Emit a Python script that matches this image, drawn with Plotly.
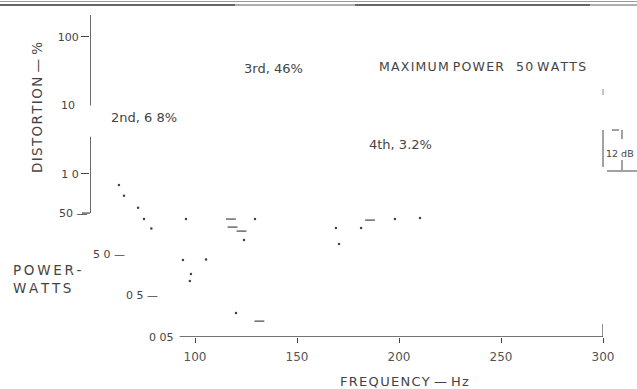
import math
import plotly.graph_objects as go

W, H = 637, 389

# Harmonic distortion trace (percent) vs frequency
dist_freq = [62.7, 65.2, 72.1, 75.0, 78.6]
dist_pct = [0.69, 0.48, 0.32, 0.22, 0.16]

# Power output points (watts) vs frequency
power_dot_freq = [95.6, 129.4, 198.0, 210.3, 169.1, 181.4, 124.0, 170.6,
                  94.1, 105.4, 98.0, 97.5, 120.1]
power_dot_w = [35.8, 35.8, 35.8, 37.9, 21.7, 21.7, 11.1, 8.9,
               3.64, 3.77, 1.67, 1.13, 0.19]
power_dash_freq = [117.6, 185.8, 118.4, 122.8, 131.6]
power_dash_w = [35.8, 33.8, 22.9, 18.3, 0.121]

# Axis ticks
freq_ticks = [100, 150, 200, 250, 300]
dist_ticks = [100, 1]
dist_tick_text = ["100", "1 0"]
power_ticks = [50, 5, 0.5, 0.05]
power_tick_text = ["50 \u2014", "5 0 \u2014", "0 5 \u2014", "0 05"]

# Annotated harmonic levels
harmonic_labels = ["3rd, 46%", "2nd, 6 8%", "4th, 3.2%"]

INK = "#444444"
FONT = "DejaVu Sans"

L, R, T, B = 90, 603, 15, 337   # plot area in pixels
X_RANGE = [48.53, 300]
Y_DIST = [-2.380, 2.321]
Y_POW = [math.log10(0.05), 6.493]


def px(x):
    # pixel column -> paper fraction (plot-area based)
    return (x - L) / (R - L)


def py(y):
    # pixel row -> paper fraction (plot-area based)
    return (B - y) / (B - T)


def tracked(s, gap="\u200a"):
    # widen letter spacing of lettering
    return gap.join(s)


fig = go.Figure()

fig.add_trace(go.Scatter(
    x=dist_freq, y=dist_pct, mode="markers", yaxis="y",
    marker=dict(symbol="circle", size=2.5, color=INK),
    showlegend=False, hoverinfo="skip"))

fig.add_trace(go.Scatter(
    x=power_dot_freq, y=power_dot_w, mode="markers", yaxis="y2",
    marker=dict(symbol="circle", size=2.5, color=INK),
    showlegend=False, hoverinfo="skip"))

fig.add_trace(go.Scatter(
    x=power_dash_freq, y=power_dash_w, mode="markers", yaxis="y2",
    marker=dict(symbol="line-ew", size=7, color=INK,
                line=dict(color=INK, width=1.2)),
    showlegend=False, hoverinfo="skip"))

shapes = []
# distortion axis line, broken around the 10 % mark
shapes.append(dict(type="line", xref="x", yref="y", x0=X_RANGE[0], x1=X_RANGE[0],
                   y0=10, y1=10 ** Y_DIST[1], line=dict(color=INK, width=1.6)))
shapes.append(dict(type="line", xref="x", yref="y", x0=X_RANGE[0], x1=X_RANGE[0],
                   y0=0.27, y1=3.5, line=dict(color=INK, width=1.6)))
# 50 W tick at the foot of the distortion axis
shapes.append(dict(type="line", xref="paper", yref="y2", x0=px(82), x1=px(90),
                   y0=power_ticks[0], y1=power_ticks[0], line=dict(color=INK, width=1.2)))
# frequency baseline at 0.05 W
shapes.append(dict(type="line", xref="x", yref="y2", x0=92.5, x1=X_RANGE[1],
                   y0=power_ticks[-1], y1=power_ticks[-1], line=dict(color=INK, width=1.3)))
# upright stub at 300 Hz
shapes.append(dict(type="line", xref="x", yref="paper", x0=300, x1=300,
                   y0=py(337), y1=py(324), line=dict(color=INK, width=1.2)))
# 12 dB scale bracket
shapes += [
    dict(type="line", xref="paper", yref="paper", x0=px(603), x1=px(603),
         y0=py(130), y1=py(167), line=dict(color=INK, width=1)),
    dict(type="line", xref="paper", yref="paper", x0=px(612), x1=px(619),
         y0=py(130), y1=py(130), line=dict(color=INK, width=1)),
    dict(type="line", xref="paper", yref="paper", x0=px(622), x1=px(622),
         y0=py(130), y1=py(139), line=dict(color=INK, width=1)),
    dict(type="line", xref="paper", yref="paper", x0=px(622), x1=px(622),
         y0=py(160), y1=py(170), line=dict(color=INK, width=1)),
    dict(type="line", xref="paper", yref="paper", x0=px(607), x1=px(637),
         y0=py(171), y1=py(171), line=dict(color=INK, width=1)),
    dict(type="line", xref="paper", yref="paper", x0=px(603), x1=px(603),
         y0=py(89), y1=py(95), line=dict(color="#888", width=1)),
]
# page rules along the top edge
shapes += [
    dict(type="line", xref="paper", yref="paper", x0=px(0), x1=px(W),
         y0=py(1.5), y1=py(1.5), line=dict(color="#9a9a9a", width=1)),
    dict(type="line", xref="paper", yref="paper", x0=px(0), x1=px(W),
         y0=py(5), y1=py(5), line=dict(color="#b0b0b0", width=2)),
    dict(type="line", xref="paper", yref="paper", x0=px(0), x1=px(235),
         y0=py(5), y1=py(5), line=dict(color="#666", width=2)),
    dict(type="line", xref="paper", yref="paper", x0=px(355), x1=px(590),
         y0=py(5), y1=py(5), line=dict(color="#666", width=2)),
]

ann = []


def note(text, x, y, size, xanchor="center", **kw):
    ann.append(dict(text=text, x=x, y=y, xref=kw.pop("xref", "paper"),
                    yref=kw.pop("yref", "paper"), showarrow=False,
                    xanchor=xanchor, yanchor="middle",
                    font=dict(family=FONT, size=size, color=INK), **kw))


# power tick labels, staggered
power_label_right = [90, 127, 160, 176]
for v, t, xr in zip(power_ticks, power_tick_text, power_label_right):
    note(t, px(xr), math.log10(v), 11, xanchor="right", yref="y2")
note("10", px(77), 1, 11, xanchor="right", yref="y")

note(tracked("DISTORTION") + " \u2014 %", px(37), py(108), 13.5, textangle=-90)
for t, (cx, cy) in zip(harmonic_labels, [(273, 68), (144, 117), (400, 144)]):
    note(t, px(cx), py(cy), 13)
note(tracked("MAXIMUM") + "\u00a0" + tracked("POWER") + "\u00a0\u00a0\u00a0"
     + tracked("50") + "\u00a0" + tracked("WATTS"), px(482), py(66), 12.5)
note("12\u00a0dB", px(620), py(153), 9.5)
note(tracked("POWER-", "\u2009") + "<br>" + tracked("WATTS", "\u2009"),
     px(11), py(279), 13.5, xanchor="left", align="left")
note(tracked("FREQUENCY") + " \u2014 " + tracked("Hz"), px(404), py(381), 13)

fig.update_layout(
    width=W, height=H,
    margin=dict(l=L, r=W - R, t=T, b=H - B, pad=0),
    paper_bgcolor="white", plot_bgcolor="white",
    showlegend=False,
    xaxis=dict(range=X_RANGE, tickvals=freq_ticks, ticks="outside", ticklen=5,
               tickcolor=INK, showline=False, showgrid=False, zeroline=False,
               ticklabelstandoff=4,
               tickfont=dict(family=FONT, size=12, color="#555")),
    yaxis=dict(type="log", range=Y_DIST, tickvals=dist_ticks, ticktext=dist_tick_text,
               ticks="outside", ticklen=8, tickcolor=INK, tickwidth=1.2,
               showline=False, showgrid=False, zeroline=False,
               tickfont=dict(family=FONT, size=11, color=INK)),
    yaxis2=dict(type="log", range=Y_POW, overlaying="y", visible=False),
    shapes=shapes, annotations=ann,
)

fig.write_html("out.html")
